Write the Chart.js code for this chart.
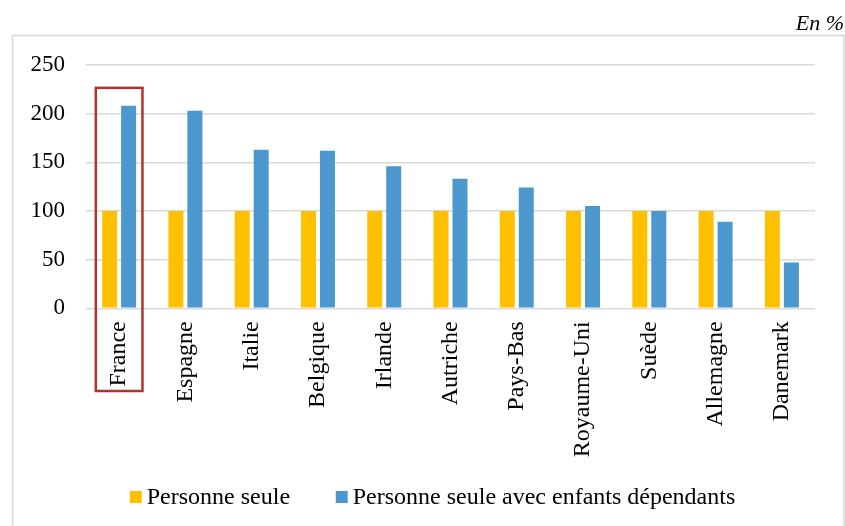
<!DOCTYPE html>
<html>
<head>
<meta charset="utf-8">
<script src="https://cdn.jsdelivr.net/npm/chart.js@4.4.1/dist/chart.umd.min.js"></script>
<style>
html,body{margin:0;padding:0;background:#ffffff;}
#wrap{position:relative;width:845px;height:526px;}
canvas{display:block;}
</style>
</head>
<body>
<div id="wrap"><canvas id="c" width="845" height="526"></canvas></div>
<script>
// ---- Data ----
const categories = ['France', 'Espagne', 'Italie', 'Belgique', 'Irlande', 'Autriche', 'Pays-Bas', 'Royaume-Uni', 'Suède', 'Allemagne', 'Danemark'];
const personneSeule = [100, 100, 100, 100, 100, 100, 100, 100, 100, 100, 100];
const personneSeuleAvecEnfants = [208, 203, 163, 162, 146, 133, 124, 105, 100, 89, 47];
const yTickValues = [0, 50, 100, 150, 200, 250];
const seriesNames = ['Personne seule', 'Personne seule avec enfants dépendants'];
const unitLabel = 'En %';
const highlightedCategory = 'France';
const highlightTopValue = 226.5;

// ---- Styles ----
const SERIF = "'Liberation Serif', 'Times New Roman', serif";
const YELLOW = '#FFC000';
const BLUE = '#4B97CE';
const GRID = '#D9D9D9';

const framePlugin = {
  id: 'frame',
  beforeDraw(chart) {
    const ctx = chart.ctx;
    ctx.save();
    ctx.fillStyle = '#ffffff';
    ctx.fillRect(0, 0, chart.width, chart.height);
    ctx.strokeStyle = GRID;
    ctx.lineWidth = 1.5;
    ctx.strokeRect(12.5, 35.5, 831.5, 700);
    ctx.fillStyle = '#000000';
    ctx.font = 'italic 22px ' + SERIF;
    ctx.textAlign = 'right';
    ctx.textBaseline = 'alphabetic';
    ctx.fillText(unitLabel, 844, 30);
    ctx.restore();
  }
};

const highlightPlugin = {
  id: 'highlight',
  afterDatasetsDraw(chart) {
    const xs = chart.scales.x, ys = chart.scales.y;
    const idx = categories.indexOf(highlightedCategory);
    if (idx < 0) return;
    const cx = xs.getPixelForValue(idx);
    const half = (xs.width / categories.length) * 0.352;
    const top = ys.getPixelForValue(highlightTopValue);
    const bottom = xs.top + 82.7;
    const ctx = chart.ctx;
    ctx.save();
    ctx.strokeStyle = '#B2322D';
    ctx.lineWidth = 2.5;
    ctx.strokeRect(cx - half, top, half * 2, bottom - top);
    ctx.restore();
  }
};

const legendPlugin = {
  id: 'customLegend',
  afterDraw(chart) {
    const ctx = chart.ctx;
    ctx.save();
    ctx.font = '24px ' + SERIF;
    const box = 12, gapText = 5, gapItem = 45.7;
    const items = chart.data.datasets.map(d => ({text: d.label, color: d.backgroundColor, w: ctx.measureText(d.label).width}));
    let total = 0;
    items.forEach((it, i) => { total += box + gapText + it.w + (i < items.length - 1 ? gapItem : 0); });
    let x = 432.5 - total / 2;
    const boxTop = 491, baseline = 504;
    items.forEach(it => {
      ctx.fillStyle = it.color;
      ctx.fillRect(x, boxTop, box, box);
      x += box + gapText;
      ctx.fillStyle = '#000000';
      ctx.textAlign = 'left';
      ctx.textBaseline = 'alphabetic';
      ctx.fillText(it.text, x, baseline);
      x += it.w + gapItem;
    });
    ctx.restore();
  }
};

new Chart(document.getElementById('c'), {
  type: 'bar',
  data: {
    labels: categories,
    datasets: [
      { label: seriesNames[0], data: personneSeule, backgroundColor: YELLOW, categoryPercentage: 0.573, barPercentage: 0.79 },
      { label: seriesNames[1], data: personneSeuleAvecEnfants, backgroundColor: BLUE, categoryPercentage: 0.573, barPercentage: 0.79 }
    ]
  },
  options: {
    responsive: false,
    animation: false,
    devicePixelRatio: 1,
    layout: { padding: { left: 0, right: 30, top: 65, bottom: 0 } },
    plugins: {
      legend: { display: false },
      tooltip: { enabled: false },
      title: { display: false }
    },
    scales: {
      x: {
        grid: { display: false, drawTicks: false },
        border: { display: false },
        ticks: {
          autoSkip: false, maxRotation: 90, minRotation: 90, padding: 13,
          color: '#000000', font: { family: SERIF, size: 24 }
        },
        afterFit(scale) { scale.height = 217.7; }
      },
      y: {
        min: 0, max: 250,
        grid: { color: GRID, lineWidth: 1.5, drawTicks: false },
        border: { display: false },
        ticks: { stepSize: 50, padding: 21, color: '#000000', font: { family: SERIF, size: 23 } },
        afterBuildTicks(scale) { scale.ticks = yTickValues.map(v => ({ value: v })); },
        afterFit(scale) { scale.width = 86; }
      }
    }
  },
  plugins: [framePlugin, highlightPlugin, legendPlugin]
});
</script>
</body>
</html>
